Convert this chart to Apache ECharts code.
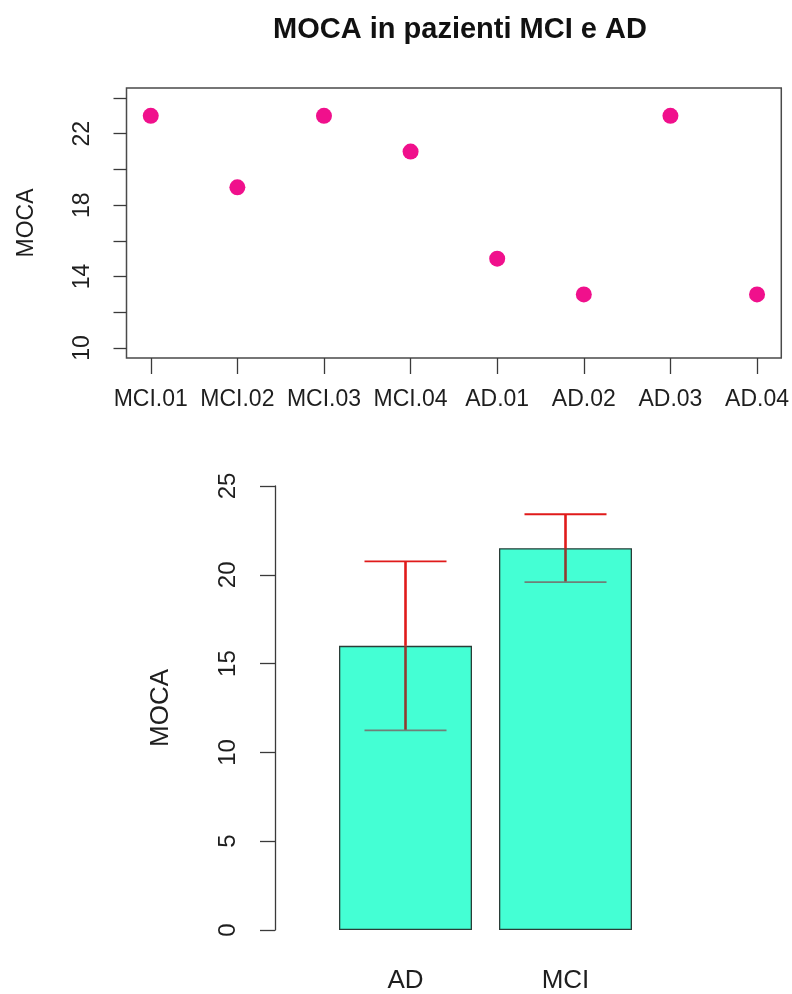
<!DOCTYPE html>
<html>
<head>
<meta charset="utf-8">
<style>html,body{margin:0;padding:0;background:#fff;}#c{width:792px;height:994px;}</style>
<script src="https://cdn.jsdelivr.net/npm/echarts@6/dist/echarts.min.js"></script>
</head>
<body>
<div id="c"></div>
<script>
// ---- data ----
const patients = ['MCI.01','MCI.02','MCI.03','MCI.04','AD.01','AD.02','AD.03','AD.04'];
const mocaScores = [23, 19, 23, 21, 15, 13, 23, 13];
const groups = ['AD', 'MCI'];
const groupMeans = [16, 21.5];
const groupSD = [4.76, 1.91];
const topTickValues = [10, 12, 14, 16, 18, 20, 22, 24];
const topLabelValues = [10, 14, 18, 22];
const xPositions = [1, 2, 3, 4, 5, 6, 7, 8];

const chart = echarts.init(document.getElementById('c'), null, {renderer: 'canvas'});
const axisColor = '#3a3a3a';
const textColor = '#1e1e1e';
const font = 'Liberation Sans, Arial, sans-serif';

const option = {
  animation: false,
  backgroundColor: '#ffffff',
  textStyle: {fontFamily: font},
  title: {
    text: 'MOCA in pazienti MCI e AD',
    left: 455, top: 10, textAlign: 'center',
    textStyle: {fontSize: 29, fontWeight: 'bold', color: '#111', fontFamily: font}
  },
  grid: [
    {left: 126.5, top: 88, width: 658, height: 270, show: true, borderColor: '#4a4a4a', borderWidth: 1.5, backgroundColor: 'transparent'},
    {left: 325.5, top: 486, width: 320, height: 444}
  ],
  xAxis: [
    {
      gridIndex: 0, type: 'value', min: 0.72, max: 8.28,
      axisLine: {show: false}, splitLine: {show: false},
      axisTick: {show: true, length: 16, customValues: xPositions, lineStyle: {color: axisColor, width: 1.3}},
      axisLabel: {customValues: xPositions, formatter: v => patients[Math.round(v) - 1], margin: 30, fontSize: 23, color: textColor}
    },
    {
      gridIndex: 1, type: 'category', data: groups,
      axisLine: {show: false}, axisTick: {show: false}, splitLine: {show: false},
      axisLabel: {margin: 38, fontSize: 26, color: textColor}
    }
  ],
  yAxis: [
    {
      gridIndex: 0, type: 'value', min: 9.44, max: 24.56,
      name: 'MOCA', nameLocation: 'middle', nameGap: 88,
      nameTextStyle: {fontSize: 23, color: textColor},
      axisLine: {show: false}, splitLine: {show: false},
      axisTick: {show: true, length: 13, customValues: topTickValues, lineStyle: {color: axisColor, width: 1.3}},
      axisLabel: {customValues: topLabelValues, rotate: 90, margin: 32, fontSize: 23, color: textColor}
    },
    {
      gridIndex: 1, type: 'value', min: 0, max: 25, interval: 5, offset: 50.5,
      name: 'MOCA', nameLocation: 'middle', nameGap: 101,
      nameTextStyle: {fontSize: 26, color: textColor},
      axisLine: {show: true, lineStyle: {color: axisColor, width: 1.3}},
      axisTick: {show: true, length: 15, lineStyle: {color: axisColor, width: 1.3}},
      axisLabel: {rotate: 90, margin: 35, fontSize: 24, color: textColor},
      splitLine: {show: false}
    }
  ],
  series: [
    {
      type: 'scatter', xAxisIndex: 0, yAxisIndex: 0,
      data: mocaScores.map((v, i) => [xPositions[i], v]),
      symbol: 'circle', symbolSize: 16,
      itemStyle: {color: '#F0108C', opacity: 1}
    },
    {
      type: 'bar', xAxisIndex: 1, yAxisIndex: 1,
      data: groupMeans, barWidth: 133,
      itemStyle: {color: '#44FFD4', borderColor: '#2a3d37', borderWidth: 1.3}
    },
    {
      type: 'custom', xAxisIndex: 1, yAxisIndex: 1, z: 5,
      data: groups.map((g, i) => [i, groupMeans[i] - groupSD[i], groupMeans[i] + groupSD[i], groupMeans[i]]),
      renderItem: function (params, api) {
        const idx = api.value(0);
        const lo = api.coord([idx, api.value(1)]);
        const hi = api.coord([idx, api.value(2)]);
        const mid = api.coord([idx, api.value(3)]);
        const hw = 41;
        const red = '#E01A1A';
        const inV = '#8E3B30';
        const inCap = '#6F8078';
        return {
          type: 'group',
          children: [
            {type: 'line', shape: {x1: hi[0], y1: hi[1], x2: mid[0], y2: mid[1]}, style: {stroke: red, lineWidth: 2.6}},
            {type: 'line', shape: {x1: mid[0], y1: mid[1], x2: lo[0], y2: lo[1]}, style: {stroke: inV, lineWidth: 2.6}},
            {type: 'line', shape: {x1: hi[0] - hw, y1: hi[1], x2: hi[0] + hw, y2: hi[1]}, style: {stroke: red, lineWidth: 1.8}},
            {type: 'line', shape: {x1: lo[0] - hw, y1: lo[1], x2: lo[0] + hw, y2: lo[1]}, style: {stroke: inCap, lineWidth: 1.8}}
          ]
        };
      }
    }
  ]
};
chart.setOption(option);
</script>
</body>
</html>
